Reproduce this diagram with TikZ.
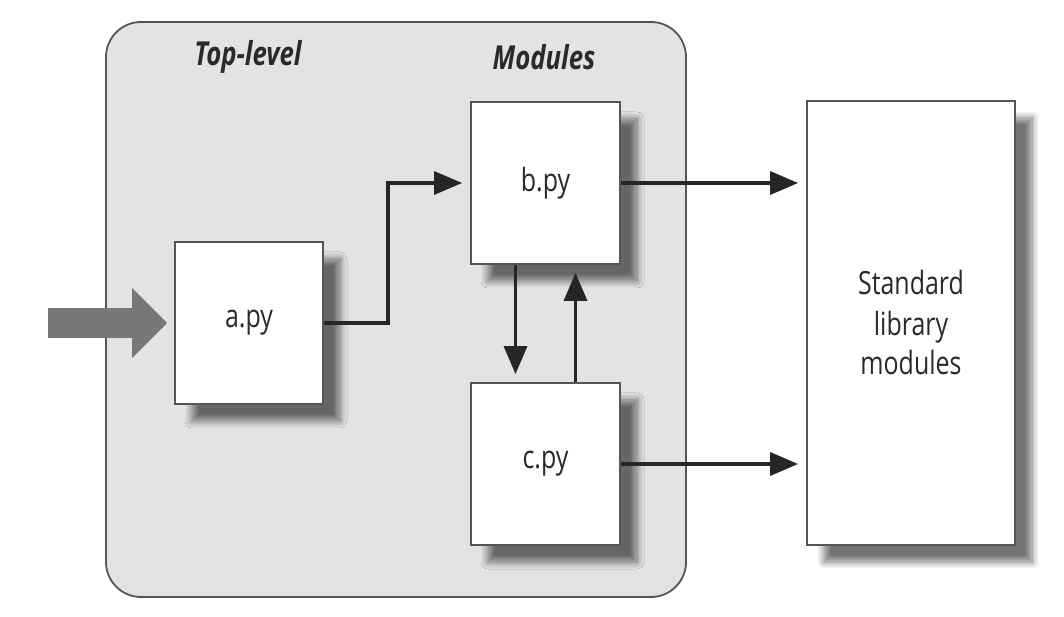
\documentclass[tikz,border=0pt]{standalone}
\usepackage{fontspec}
\setmainfont{Open Sans}[FakeStretch=0.78]
\usetikzlibrary{arrows.meta,shadows.blur}

\definecolor{edgegray}{HTML}{555555}
\definecolor{groupgray}{HTML}{E3E3E3}
\definecolor{inkgray}{HTML}{2A2A2A}
\definecolor{bigarrow}{HTML}{777777}

\tikzset{
  groupbox/.style={draw=edgegray, line width=1.8pt, fill=groupgray, rounded corners=35pt},
  filebox/.style={draw=edgegray, line width=1.8pt, fill=white, text=inkgray,
    font=\fontsize{32}{40}\selectfont, align=center, inner sep=0pt,
    blur shadow={shadow xshift=17pt, shadow yshift=-17pt, shadow blur radius=7pt,
      shadow blur steps=12, shadow opacity=55}},
  heading/.style={text=inkgray, font=\fontsize{33}{38}\selectfont\bfseries\itshape},
  link/.style={draw=black!85, line width=3.5pt, shorten >=8pt,
    -{Triangle[length=28pt,width=23pt]}},
}

\begin{document}
\begin{tikzpicture}[x=1pt,y=1pt]
    \useasboundingbox (0,0) rectangle (1064,616);

    % Draw the grey group
    \node[groupbox, minimum width=580pt, minimum height=575pt] (grp) at (396,306.5) {};
    \node[heading] (toplevel) at (248,559) {Top-level};
    \node[heading] (modules) at (544,559) {Modules};

    % Draw the files
    \node[filebox, minimum width=148pt, minimum height=162pt] (a) at (249,293) {a.py};
    \node[filebox, minimum width=149pt, minimum height=162pt] (b) at (545.5,433) {b.py};
    \node[filebox, minimum width=149pt, minimum height=162pt] (c) at (545.5,152) {c.py};
    \node[filebox, minimum width=208pt, minimum height=444pt] (std) at (911,293) {Standard\\library\\modules};

    % Big arrow into a.py
    \coordinate (run) at (48,293);
    \draw[bigarrow, line width=30pt, shorten >=7pt, -{Triangle[length=35pt,width=68pt]}] (run) -- (a.west);

    % Imports
    \draw[link] (a.east) -- (388,293) |- (b.west);
    \draw[link] ([xshift=-30pt]b.south) -- ([xshift=-30pt]c.north);
    \draw[link] ([xshift=30pt]c.north) -- ([xshift=30pt]b.south);
    \draw[link] (b.east) -- (b.east -| std.west);
    \draw[link] (c.east) -- (c.east -| std.west);
\end{tikzpicture}
\end{document}
